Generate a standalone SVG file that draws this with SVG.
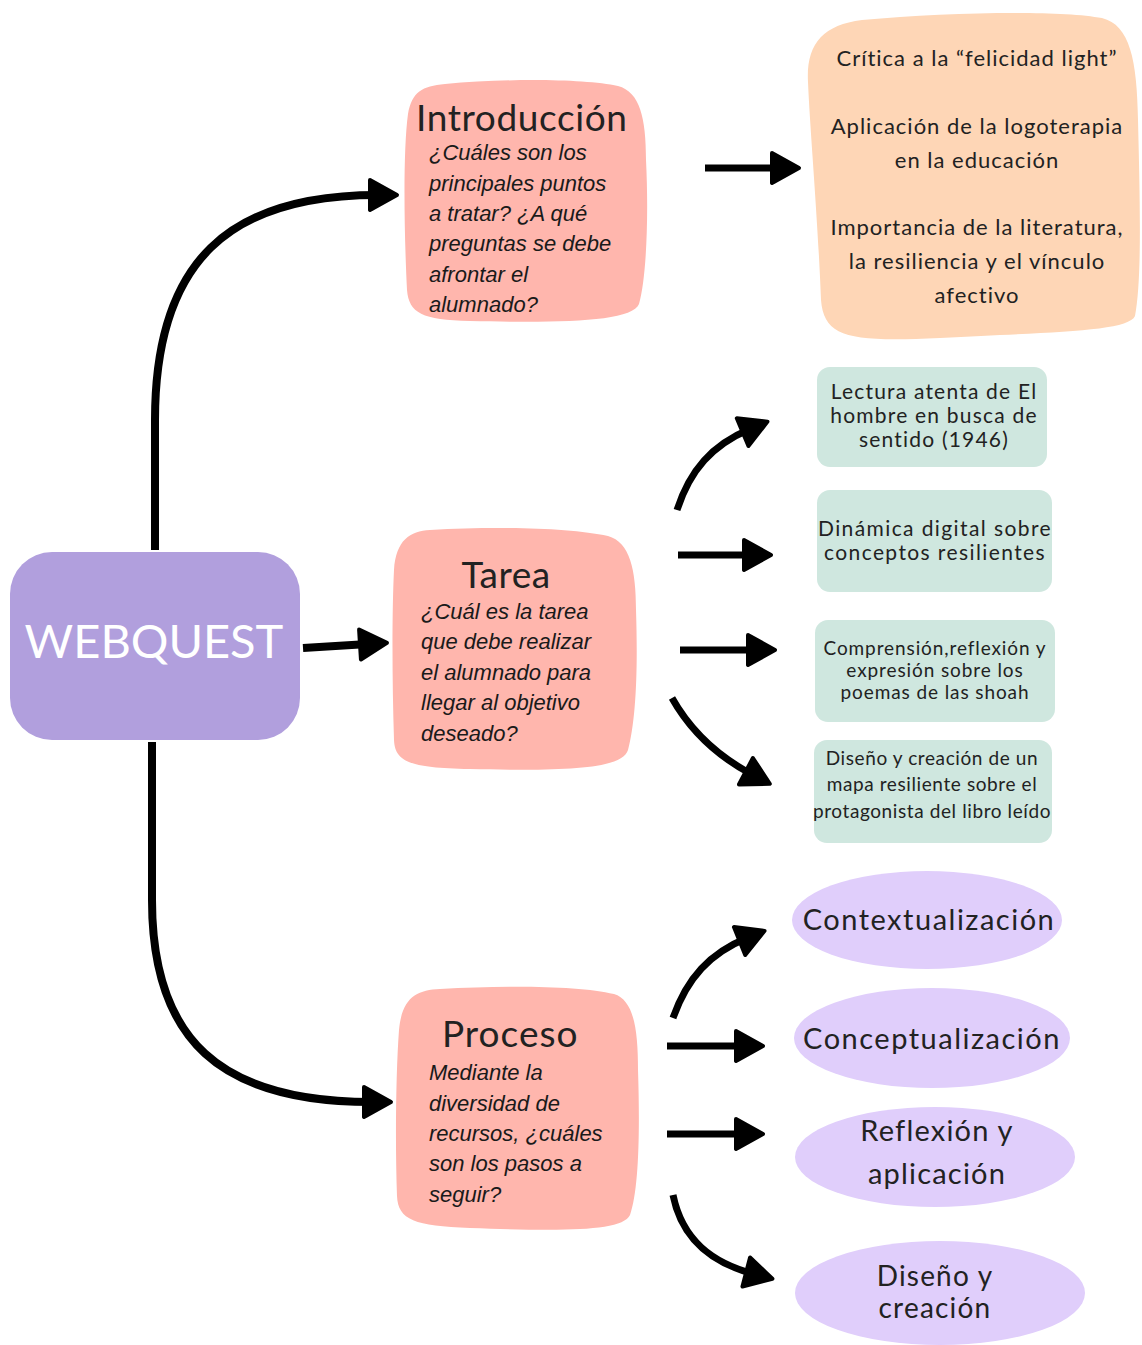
<svg xmlns="http://www.w3.org/2000/svg" width="1142" height="1345" viewBox="0 0 1142 1345">
<style>
.q{font-family:Lato,"Noto Sans",sans-serif;fill:#222;letter-spacing:1px;}
.it{font-family:"Liberation Sans",Arial,sans-serif;font-style:italic;font-size:22px;fill:#1a1a1a;}
.pink{fill:#ffb6ad;}
.green{fill:#cfe7df;}
.lilac{fill:#e0cefb;}
.con{fill:none;stroke:#000;stroke-width:8;}
.con2{fill:none;stroke:#000;stroke-width:7;}
</style>
<defs>
<marker id="ah" markerUnits="userSpaceOnUse" markerWidth="40" markerHeight="40" refX="10" refY="17" orient="auto" viewBox="-4 -4 40 40">
<path d="M2,2 L29,17 L2,32 Z" fill="#000" stroke="#000" stroke-width="4" stroke-linejoin="round"/>
</marker>
</defs>
<rect width="1142" height="1345" fill="#fff"/>

<g id="connectors">
<path class="con" d="M155,550 L155,420 C155,260 230,195 378,195" marker-end="url(#ah)"/>
<path class="con" d="M152,742 L152,900 C152,1040 220,1102 372,1102" marker-end="url(#ah)"/>
<path class="con" d="M303,648 L368,644" marker-end="url(#ah)"/>
<path class="con2" d="M705,168 L780,168" marker-end="url(#ah)"/>
<path class="con2" d="M677,510 C690,470 712,445 750,429" marker-end="url(#ah)"/>
<path class="con2" d="M678,555 L752,555" marker-end="url(#ah)"/>
<path class="con2" d="M680,650 L756,650" marker-end="url(#ah)"/>
<path class="con2" d="M672,698 C690,730 715,755 753,775" marker-end="url(#ah)"/>
<path class="con2" d="M673,1018 C687,978 710,953 747,938" marker-end="url(#ah)"/>
<path class="con2" d="M667,1046 L744,1046" marker-end="url(#ah)"/>
<path class="con2" d="M667,1134 L744,1134" marker-end="url(#ah)"/>
<path class="con2" d="M673,1195 C682,1240 712,1263 754,1274" marker-end="url(#ah)"/>
</g>

<g id="webquest">
<rect x="10" y="552" width="290" height="188" rx="42" fill="#b19fdd"/>
<text x="154" y="658" text-anchor="middle" class="q" style="fill:#fff;font-size:47px;letter-spacing:0">WEBQUEST</text>
</g>

<g id="introduccion">
<path class="pink" d="M445,84 C510,78 585,79 618,86 C640,92 646,118 646,160 C649,220 646,280 639,304 C632,322 560,323 470,321 C422,320 409,313 407,290 C404,230 403,150 408,114 C412,92 422,86 445,84 Z"/>
<text x="416" y="131" class="q" style="font-size:37px;letter-spacing:0.6px">Introducción</text>
<text class="it"><tspan x="429" y="160">¿Cuáles son los</tspan><tspan x="429" y="191">principales puntos</tspan><tspan x="429" y="221">a tratar? ¿A qué</tspan><tspan x="429" y="251">preguntas se debe</tspan><tspan x="429" y="282">afrontar el</tspan><tspan x="429" y="312">alumnado?</tspan></text>
</g>

<g id="claves">
<path fill="#fed6b6" d="M862,20 C950,12 1060,10 1102,18 C1130,25 1137,60 1138,120 C1140,200 1142,280 1135,316 C1128,332 1050,332 940,338 C850,342 824,338 821,300 C818,220 810,130 808,82 C806,45 822,25 862,20 Z"/>
<text class="q" text-anchor="middle" style="font-size:22px"><tspan x="977" y="66">Crítica a la “felicidad light”</tspan><tspan x="977" y="134">Aplicación de la logoterapia</tspan><tspan x="977" y="168">en la educación</tspan><tspan x="977" y="235">Importancia de la literatura,</tspan><tspan x="977" y="269">la resiliencia y el vínculo</tspan><tspan x="977" y="303">afectivo</tspan></text>
</g>

<g id="tarea">
<path class="pink" d="M430,530 C500,526 570,528 608,536 C630,542 636,570 636,610 C638,670 636,720 628,750 C622,770 560,771 470,769 C410,768 395,762 394,740 C392,680 392,610 394,570 C396,540 410,531 430,530 Z"/>
<text x="506" y="588" text-anchor="middle" class="q" style="font-size:37px;letter-spacing:0.5px">Tarea</text>
<text class="it"><tspan x="421" y="619">¿Cuál es la tarea</tspan><tspan x="421" y="649">que debe realizar</tspan><tspan x="421" y="680">el alumnado para</tspan><tspan x="421" y="710">llegar al objetivo</tspan><tspan x="421" y="741">deseado?</tspan></text>
</g>

<g id="proceso">
<path class="pink" d="M440,989 C510,985 580,986 614,994 C634,1000 638,1030 638,1070 C640,1130 639,1190 630,1215 C622,1232 560,1231 470,1228 C415,1226 398,1220 397,1196 C395,1140 396,1070 399,1030 C402,998 416,990 440,989 Z"/>
<text x="442" y="1047" class="q" style="font-size:37px;letter-spacing:1px">Proceso</text>
<text class="it"><tspan x="429" y="1080">Mediante la</tspan><tspan x="429" y="1111">diversidad de</tspan><tspan x="429" y="1141">recursos, ¿cuáles</tspan><tspan x="429" y="1171">son los pasos a</tspan><tspan x="429" y="1202">seguir?</tspan></text>
</g>

<g id="lectura">
<rect class="green" x="817" y="367" width="230" height="100" rx="13"/>
<text class="q" text-anchor="middle" style="font-size:21px;letter-spacing:1.2px"><tspan x="934" y="399">Lectura atenta de El</tspan><tspan x="934" y="423">hombre en busca de</tspan><tspan x="934" y="447">sentido (1946)</tspan></text>
</g>
<g id="dinamica">
<rect class="green" x="817" y="490" width="235" height="102" rx="13"/>
<text class="q" text-anchor="middle" style="font-size:21px;letter-spacing:1.4px"><tspan x="935" y="536">Dinámica digital sobre</tspan><tspan x="935" y="560">conceptos resilientes</tspan></text>
</g>
<g id="comprension">
<rect class="green" x="815" y="620" width="240" height="102" rx="13"/>
<text class="q" text-anchor="middle" style="font-size:19px;letter-spacing:0.9px"><tspan x="935" y="655">Comprensión,reflexión y</tspan><tspan x="935" y="677">expresión sobre los</tspan><tspan x="935" y="699">poemas de las shoah</tspan></text>
</g>
<g id="diseno-mapa">
<rect class="green" x="814" y="740" width="238" height="103" rx="13"/>
<text class="q" text-anchor="middle" style="font-size:19px;letter-spacing:0.6px"><tspan x="932" y="765">Diseño y creación de un</tspan><tspan x="932" y="791">mapa  resiliente sobre el</tspan><tspan x="932" y="818">protagonista del libro leído</tspan></text>
</g>

<g id="contextualizacion">
<ellipse class="lilac" cx="927" cy="920" rx="135" ry="49"/>
<text x="929" y="930" text-anchor="middle" class="q" style="font-size:29px;letter-spacing:1.5px">Contextualización</text>
</g>
<g id="conceptualizacion">
<ellipse class="lilac" cx="932" cy="1038" rx="138" ry="50"/>
<text x="932" y="1049" text-anchor="middle" class="q" style="font-size:29px;letter-spacing:1.5px">Conceptualización</text>
</g>
<g id="reflexion">
<ellipse class="lilac" cx="935" cy="1157" rx="140" ry="50"/>
<text class="q" text-anchor="middle" style="font-size:29px;letter-spacing:1.2px"><tspan x="937" y="1141">Reflexión y</tspan><tspan x="937" y="1184">aplicación</tspan></text>
</g>
<g id="diseno-creacion">
<ellipse class="lilac" cx="940" cy="1293" rx="145" ry="52"/>
<text class="q" text-anchor="middle" style="font-size:28px;letter-spacing:1.2px"><tspan x="935" y="1286">Diseño y</tspan><tspan x="935" y="1318">creación</tspan></text>
</g>
</svg>
